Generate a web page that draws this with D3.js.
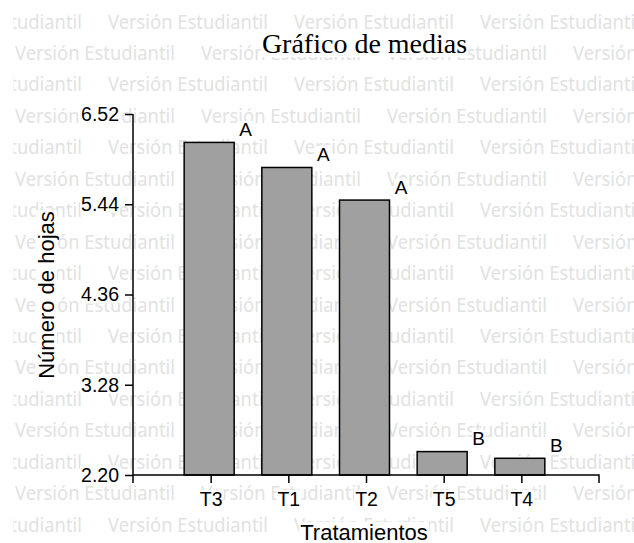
<!DOCTYPE html>
<html><head><meta charset="utf-8">
<script src="https://cdn.jsdelivr.net/npm/d3@7/dist/d3.min.js"></script>
<style>body{margin:0;background:#fff}svg{display:block}</style>
</head><body>
<script>
const categories = ["T3", "T1", "T2", "T5", "T4"];
const means = [6.18, 5.88, 5.49, 2.48, 2.40];
const groups = ["A", "A", "A", "B", "B"];
const yTicks = [2.20, 3.28, 4.36, 5.44, 6.52];
const chartTitle = "Gráfico de medias";
const xTitle = "Tratamientos";
const yTitle = "Número de hojas";
const watermark = "Versión Estudiantil";

(function () {
const W = 634, H = 543;
const svg = d3.select("body").append("svg").attr("width", W).attr("height", H);
svg.append("rect").attr("width", W).attr("height", H).attr("fill", "#fff");

// watermark
svg.append("clipPath").attr("id", "wmclip").append("rect").attr("x", 13.5).attr("y", 0).attr("width", W - 13.5).attr("height", H);
const wm = svg.append("g").attr("clip-path", "url(#wmclip)");
for (let r = 0; r < 17; r++) {
  const base = 28.5 + 31.45 * r;
  const start = (r % 2 === 0) ? -78 : 15;
  for (let x0 = start; x0 < W; x0 += 186) {
    wm.append("text").attr("x", x0).attr("y", base)
      .attr("textLength", 160).attr("lengthAdjust", "spacingAndGlyphs")
      .attr("font-family", "Noto Sans, Open Sans, sans-serif").attr("font-size", 19.5)
      .attr("fill", "#e2e2e2").text(watermark);
  }
}

const pl = 133, pr = 599, pt = 114, pb = 475;
const step = (pr - pl) / (categories.length + 1);
const x = d3.scalePoint().domain(categories).range([pl + step, pr - step]);
const y = d3.scaleLinear().domain([yTicks[0], yTicks[yTicks.length - 1]]).range([pb, pt]);

const font = "Liberation Sans, Arial, sans-serif";
function boxBehind(sel, pad) {
  sel.each(function () {
    const b = this.getBBox();
    const t = this.getAttribute("transform");
    const r = d3.select(this.parentNode).insert("rect", () => this)
      .attr("x", b.x - pad).attr("y", b.y + 2).attr("width", b.width + 2 * pad).attr("height", b.height - 4)
      .attr("fill", "#fff");
    if (t) r.attr("transform", t);
  });
}

const chart = svg.append("g");

// bars
chart.selectAll("rect.bar").data(categories).join("rect").attr("class", "bar")
  .attr("x", d => x(d) - 26.5).attr("width", 50)
  .attr("y", (d, i) => y(means[i])).attr("height", (d, i) => pb - y(means[i]))
  .attr("fill", "#a0a0a0").attr("stroke", "#000").attr("stroke-width", 1.5);

// group letters
const letters = chart.selectAll("text.grp").data(categories).join("text").attr("class", "grp")
  .attr("x", d => x(d) + 35).attr("y", (d, i) => y(means[i]) - 6.5)
  .attr("text-anchor", "middle").attr("font-family", font).attr("font-size", 19)
  .text((d, i) => groups[i]);
boxBehind(letters, 0.5);

// y axis
const yAxis = chart.append("g").attr("transform", `translate(${pl},0)`)
  .call(d3.axisLeft(y).tickValues(yTicks).tickFormat(d3.format(".2f")).tickSize(8).tickPadding(6).tickSizeOuter(0));
yAxis.select(".domain").remove();
yAxis.selectAll("line").attr("stroke-width", 1.5);
yAxis.selectAll("text").attr("font-family", font).attr("font-size", 19.5).attr("fill", "#000");
boxBehind(yAxis.selectAll("text"), 1);

// x axis
const xAxis = chart.append("g").attr("transform", `translate(0,${pb})`)
  .call(d3.axisBottom(x).tickSize(8).tickSizeOuter(0));
xAxis.select(".domain").remove();
xAxis.selectAll("line").attr("stroke-width", 1.5);
xAxis.selectAll("text").attr("y", 31).attr("dy", 0).attr("font-family", font).attr("font-size", 19.5).attr("fill", "#000");
boxBehind(xAxis.selectAll("text"), 1);

chart.append("path")
  .attr("d", `M${pl},${pt} V${pb + 8} M${pl},${pb} H${pr} V${pb + 8}`)
  .attr("fill", "none").attr("stroke", "#000").attr("stroke-width", 1.5);

// titles
const t1 = chart.append("text").attr("x", 364.5).attr("y", 53).attr("text-anchor", "middle")
  .attr("font-family", "Liberation Serif, Times New Roman, serif").attr("font-size", 28).text(chartTitle);
boxBehind(t1, 1);
const t2 = chart.append("text").attr("x", 364).attr("y", 540).attr("text-anchor", "middle")
  .attr("font-family", font).attr("font-size", 22).text(xTitle);
boxBehind(t2, 1);
const t3 = chart.append("text").attr("transform", "translate(54,295) rotate(-90)").attr("text-anchor", "middle")
  .attr("font-family", font).attr("font-size", 22).text(yTitle);
boxBehind(t3, 1);
})();
</script>
</body></html>
